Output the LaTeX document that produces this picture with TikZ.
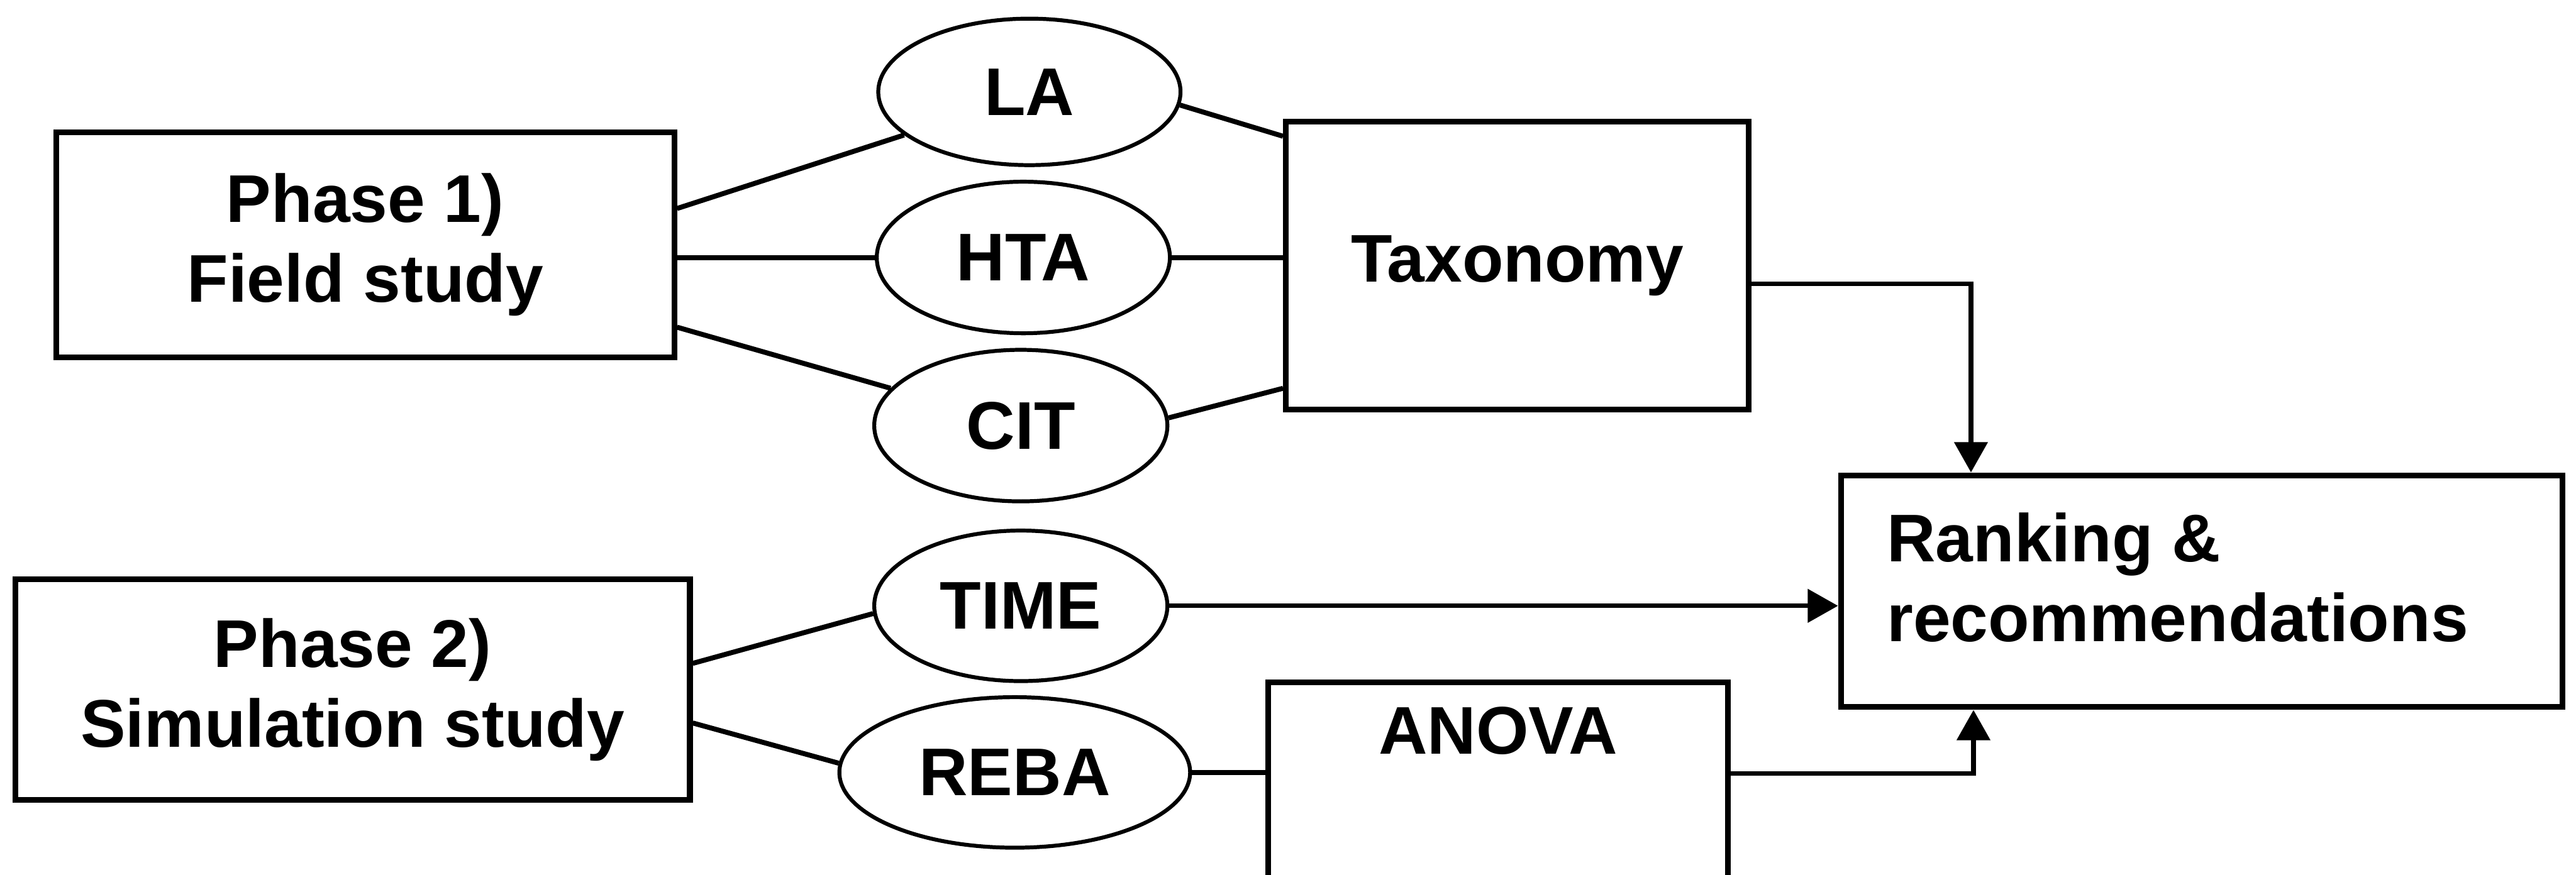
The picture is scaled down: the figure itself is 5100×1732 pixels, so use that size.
\documentclass[tikz,border=0pt]{standalone}
\usepackage{fontspec}
\setmainfont{Liberation Sans}
\usetikzlibrary{shapes.geometric,arrows.meta,calc}
\begin{document}
\begin{tikzpicture}[x=0.01cm,y=-0.01cm,
 every node/.style={font=\bfseries\fontsize{38}{45}\selectfont},
 box/.style={draw,line width=3.2pt,rectangle,inner sep=0pt},
 oval/.style={draw,line width=2.2pt,ellipse,inner sep=0pt},
 conn/.style={line width=2.8pt},
 arr/.style={line width=2.6pt,-{Triangle[length=0.6cm,width=0.65cm]}}]
\clip (0,0) rectangle (5100,1732);
\fill[white] (0,0) rectangle (5100,1732);
% boxes
\node[box,minimum width=12.23cm,minimum height=4.46cm,align=center] (p1) at (723,485) {Phase 1)\\Field study};
\node[box,minimum width=13.35cm,minimum height=4.36cm,align=center] (p2) at (698,1366) {Phase 2)\\Simulation study};
\node[box,minimum width=9.16cm,minimum height=5.70cm] (tax) at (3004,526) {Taxonomy};
\node[box,minimum width=14.28cm,minimum height=4.59cm] (rank) at (4359,1171) {};
\node[inner sep=0pt,align=left,anchor=west] (ranktext) at (3735,1144) {Ranking \&\\recommendations};
\node[box,minimum width=9.09cm,minimum height=5.54cm,anchor=north] (anova) at (2966,1346) {};
\node (anovatext) at (2966,1448) {ANOVA};
% ellipses
\node[oval,minimum width=5.98cm,minimum height=2.90cm] (la) at (2038,182) {LA};
\node[oval,minimum width=5.80cm,minimum height=3.00cm] (hta) at (2026,510) {HTA};
\node[oval,minimum width=5.80cm,minimum height=3.00cm] (cit) at (2021,843) {CIT};
\node[oval,minimum width=5.80cm,minimum height=2.98cm] (time) at (2021,1200) {TIME};
\node[oval,minimum width=6.94cm,minimum height=2.98cm] (reba) at (2009,1530) {REBA};
% connectors
\draw[conn] ([yshift=0.72cm]p1.east) -- (la.199);
\draw[conn] (p1.east |- hta.west) -- (hta.west);
\draw[conn] ([yshift=-1.63cm]p1.east) -- (cit.164);
\draw[conn] (la.-5) -- ([yshift=2.56cm]tax.west);
\draw[conn] (hta.east) -- (hta.east -| tax.west);
\draw[conn] (cit.3) -- ([yshift=-2.43cm]tax.west);
\draw[conn] ([yshift=0.52cm]p2.east) -- (time.183);
\draw[conn] ([yshift=-0.66cm]p2.east) -- (reba.177);
\draw[arr] ([yshift=-0.36cm]tax.east) -| ([xshift=2.63cm]rank.north west);
\draw[arr] (time.east) -- (time.east -| rank.west);
\draw[conn] (reba.east) -- (reba.east -| anova.west);
\draw[arr] ([yshift=-1.86cm]anova.north east) -| ([xshift=2.68cm]rank.south west);
\end{tikzpicture}
\end{document}
